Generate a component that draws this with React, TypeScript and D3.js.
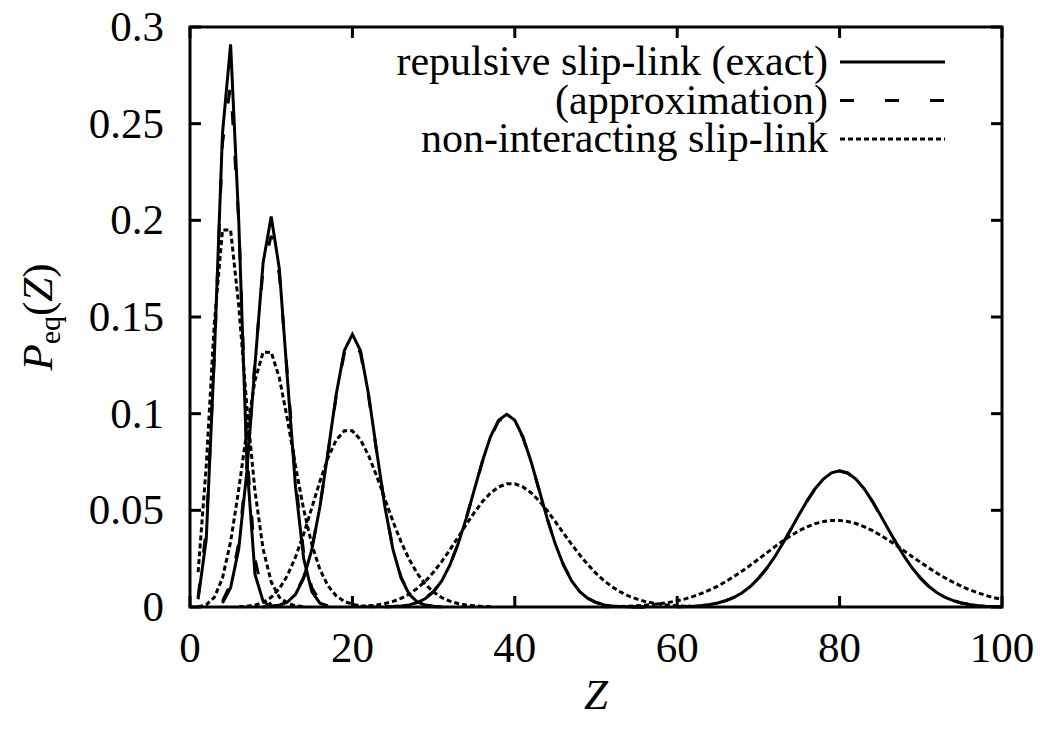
import React from "react";
import * as d3 from "d3";

// x ticks / y ticks
const xTicks = [0, 20, 40, 60, 80, 100];
const yTicks = [0, 0.05, 0.1, 0.15, 0.2, 0.25, 0.3];
const yTickLabels = ["0", "0.05", "0.1", "0.15", "0.2", "0.25", "0.3"];

// repulsive slip-link (exact), values at integer Z starting at *Start
const exact5Start = 1;
const exact5 = [0.004, 0.035, 0.13, 0.245, 0.291, 0.2, 0.075, 0.017, 0.003, 0.0];
const exact10Start = 4;
const exact10 = [0.002, 0.01, 0.03, 0.07, 0.125, 0.178, 0.202, 0.175, 0.118, 0.062, 0.025, 0.008, 0.002, 0.0005];
const exact20Start = 9;
const exact20 = [0.0001, 0.0003, 0.0009, 0.0026, 0.0066, 0.0149, 0.0296, 0.0519, 0.0803, 0.1098, 0.1325, 0.141,
  0.1325, 0.1098, 0.0803, 0.0519, 0.0296, 0.0149, 0.0066, 0.0026, 0.0009, 0.0003, 0.0001];
const exact40Start = 24;
const exact40 = [0.0001, 0.0002, 0.0005, 0.0011, 0.0023, 0.0044, 0.0079, 0.0135, 0.0216, 0.0324, 0.0456, 0.0605,
  0.0753, 0.088, 0.0966, 0.0997, 0.0966, 0.088, 0.0753, 0.0605, 0.0456, 0.0324, 0.0216, 0.0135, 0.0079, 0.0044,
  0.0023, 0.0011, 0.0005, 0.0002, 0.0001, 0.0, 0.0];
const exact80Start = 60;
const exact80 = [0.0001, 0.0002, 0.0004, 0.0008, 0.0013, 0.0021, 0.0033, 0.005, 0.0074, 0.0106, 0.0148, 0.0199,
  0.0259, 0.0328, 0.0402, 0.0477, 0.0549, 0.0613, 0.0662, 0.0694, 0.0705, 0.0694, 0.0662, 0.0613, 0.0549, 0.0477,
  0.0402, 0.0328, 0.0259, 0.0199, 0.0148, 0.0106, 0.0074, 0.005, 0.0033, 0.0021, 0.0013, 0.0008, 0.0004, 0.0002,
  0.0001];

// repulsive slip-link (approximation)
const approx5Start = 1;
const approx5 = [0.005, 0.04, 0.13, 0.24, 0.27, 0.2, 0.08, 0.025, 0.006, 0.001];
const approx10Start = 4;
const approx10 = [0.003, 0.012, 0.033, 0.073, 0.127, 0.175, 0.192, 0.172, 0.12, 0.066, 0.028, 0.01, 0.003, 0.001];
const approx20Start = 9;
const approx20 = [0.0001, 0.0004, 0.001, 0.0028, 0.007, 0.0154, 0.0301, 0.0521, 0.0799, 0.1088, 0.1312, 0.1395,
  0.1312, 0.1088, 0.0799, 0.0521, 0.0301, 0.0154, 0.007, 0.0028, 0.001, 0.0004, 0.0001];
const approx40Start = 24;
const approx40 = [0.0001, 0.0002, 0.0005, 0.0012, 0.0024, 0.0046, 0.0081, 0.0137, 0.0218, 0.0325, 0.0456, 0.0603,
  0.075, 0.0876, 0.0961, 0.0992, 0.0961, 0.0876, 0.075, 0.0603, 0.0456, 0.0325, 0.0218, 0.0137, 0.0081, 0.0046,
  0.0024, 0.0012, 0.0005, 0.0002, 0.0001, 0.0, 0.0];
const approx80Start = 60;
const approx80 = [0.0001, 0.0002, 0.0004, 0.0008, 0.0013, 0.0021, 0.0033, 0.005, 0.0074, 0.0106, 0.0148, 0.0199,
  0.0259, 0.0328, 0.0402, 0.0477, 0.0549, 0.0612, 0.0661, 0.0692, 0.0703, 0.0692, 0.0661, 0.0612, 0.0549, 0.0477,
  0.0402, 0.0328, 0.0259, 0.0199, 0.0148, 0.0106, 0.0074, 0.005, 0.0033, 0.0021, 0.0013, 0.0008, 0.0004, 0.0002,
  0.0001];

// non-interacting slip-link
const free5Start = 1;
const free5 = [0.018, 0.073, 0.147, 0.195, 0.195, 0.156, 0.104, 0.06, 0.03, 0.013, 0.005, 0.002, 0.0006, 0.0002];
const free10Start = 1;
const free10 = [0.0001, 0.0011, 0.005, 0.015, 0.0337, 0.0607, 0.0911, 0.1171, 0.1318, 0.1318, 0.1186, 0.097,
  0.0728, 0.0504, 0.0324, 0.0194, 0.0109, 0.0058, 0.0029, 0.0014, 0.0006, 0.0003, 0.0001];
const free20Start = 6;
const free20 = [0.0001, 0.0004, 0.001, 0.0024, 0.005, 0.0095, 0.0163, 0.0259, 0.0378, 0.0513, 0.065, 0.0772,
  0.0863, 0.0911, 0.0911, 0.0865, 0.0783, 0.0676, 0.0559, 0.0442, 0.0336, 0.0246, 0.0173, 0.0117, 0.0077, 0.0049,
  0.003, 0.0018, 0.001, 0.0006, 0.0003, 0.0002];
const free40Start = 20;
const free40 = [0.0002, 0.0003, 0.0006, 0.001, 0.0018, 0.0029, 0.0045, 0.0067, 0.0097, 0.0134, 0.0181, 0.0235,
  0.0295, 0.036, 0.0425, 0.0488, 0.0544, 0.0589, 0.0621, 0.0637, 0.0637, 0.0621, 0.0591, 0.0549, 0.0498, 0.0441,
  0.0382, 0.0324, 0.0269, 0.0219, 0.0174, 0.0136, 0.0104, 0.0078, 0.0057, 0.0042, 0.0029, 0.0021, 0.0014, 0.0009,
  0.0006, 0.0004, 0.0003, 0.0002];
const free80Start = 51;
const free80 = [0.0001, 0.0002, 0.0003, 0.0004, 0.0006, 0.0009, 0.0013, 0.0018, 0.0024, 0.0032, 0.0042, 0.0055,
  0.007, 0.0088, 0.0108, 0.0132, 0.0158, 0.0186, 0.0216, 0.0247, 0.0279, 0.0311, 0.0341, 0.0369, 0.0394, 0.0415,
  0.0431, 0.0442, 0.0448, 0.0448, 0.0442, 0.0432, 0.0416, 0.0396, 0.0372, 0.0346, 0.0318, 0.0289, 0.0259, 0.023,
  0.0202, 0.0175, 0.015, 0.0128, 0.0107, 0.0089, 0.0074, 0.006, 0.0048, 0.0039];

const legendLabels = ["repulsive slip-link (exact)", "(approximation)", "non-interacting slip-link"];

const W = 1040, H = 732;
const margin = { left: 190, right: 1002, top: 27, bottom: 607 };
const font = '"Liberation Serif", "Times New Roman", Times, "DejaVu Serif", "Noto Serif", FreeSerif, serif';

const styles = [
  { dash: "none" },
  { dash: "14,31" },
  { dash: "5,3" },
];

function toPoints(start: number, vals: number[]): [number, number][] {
  return vals.map((v, i) => [start + i, v]);
}

export default function App() {
  const x = d3.scaleLinear().domain([0, 100]).range([margin.left, margin.right]);
  const y = d3.scaleLinear().domain([0, 0.3]).range([margin.bottom, margin.top]);
  const line = d3.line<[number, number]>().x(d => x(d[0])).y(d => y(d[1]));

  const groups = [
    [toPoints(exact5Start, exact5), toPoints(exact10Start, exact10), toPoints(exact20Start, exact20),
      toPoints(exact40Start, exact40), toPoints(exact80Start, exact80)],
    [toPoints(approx5Start, approx5), toPoints(approx10Start, approx10), toPoints(approx20Start, approx20),
      toPoints(approx40Start, approx40), toPoints(approx80Start, approx80)],
    [toPoints(free5Start, free5), toPoints(free10Start, free10), toPoints(free20Start, free20),
      toPoints(free40Start, free40), toPoints(free80Start, free80)],
  ];

  const tickLen = 11;

  return (
    <svg width={W} height={H} style={{ position: "absolute", left: 0, top: 0, background: "#fff", fontFamily: font }}>
      {/* curves */}
      <g fill="none" stroke="#000" strokeWidth={3} strokeLinejoin="miter">
        {groups.map((g, gi) =>
          g.map((pts, i) => (
            <path key={gi + "-" + i} d={line(pts) || ""} strokeDasharray={styles[gi].dash} />
          ))
        )}
      </g>

      {/* ticks */}
      <g stroke="#000" strokeWidth={3}>
        {xTicks.map(t => (
          <g key={"xt" + t}>
            <line x1={x(t)} x2={x(t)} y1={margin.bottom} y2={margin.bottom - tickLen} />
            <line x1={x(t)} x2={x(t)} y1={margin.top} y2={margin.top + tickLen} />
          </g>
        ))}
        {yTicks.map(t => (
          <g key={"yt" + t}>
            <line x1={margin.left} x2={margin.left + tickLen} y1={y(t)} y2={y(t)} />
            <line x1={margin.right} x2={margin.right - tickLen} y1={y(t)} y2={y(t)} />
          </g>
        ))}
      </g>

      {/* frame */}
      <rect x={margin.left} y={margin.top} width={margin.right - margin.left} height={margin.bottom - margin.top}
        fill="none" stroke="#000" strokeWidth={3} />

      {/* tick labels */}
      <g fontSize={43} fill="#000">
        {xTicks.map(t => (
          <text key={"xl" + t} x={x(t)} y={margin.bottom + 55} textAnchor="middle">{t}</text>
        ))}
        {yTicks.map((t, i) => (
          <text key={"yl" + t} x={margin.left - 26} y={y(t) + 14} textAnchor="end">{yTickLabels[i]}</text>
        ))}
      </g>

      {/* axis titles */}
      <text x={(margin.left + margin.right) / 2} y={709} textAnchor="middle" fontSize={43} fontStyle="italic">Z</text>
      <text transform={`translate(52, ${(margin.top + margin.bottom) / 2}) rotate(-90)`} textAnchor="middle"
        fontSize={43}>
        <tspan fontStyle="italic">P</tspan>
        <tspan fontSize={30} dy={8}>eq</tspan>
        <tspan dy={-8}>(</tspan>
        <tspan fontStyle="italic">Z</tspan>
        <tspan>)</tspan>
      </text>

      {/* legend */}
      <g fontSize={42}>
        {legendLabels.map((lab, i) => {
          const ly = 62 + i * 38.5;
          return (
            <g key={lab}>
              <text x={828} y={ly + 13} textAnchor="end">{lab}</text>
              <line x1={840} x2={945} y1={ly} y2={ly} stroke="#000" strokeWidth={3}
                strokeDasharray={styles[i].dash} />
            </g>
          );
        })}
      </g>
    </svg>
  );
}
